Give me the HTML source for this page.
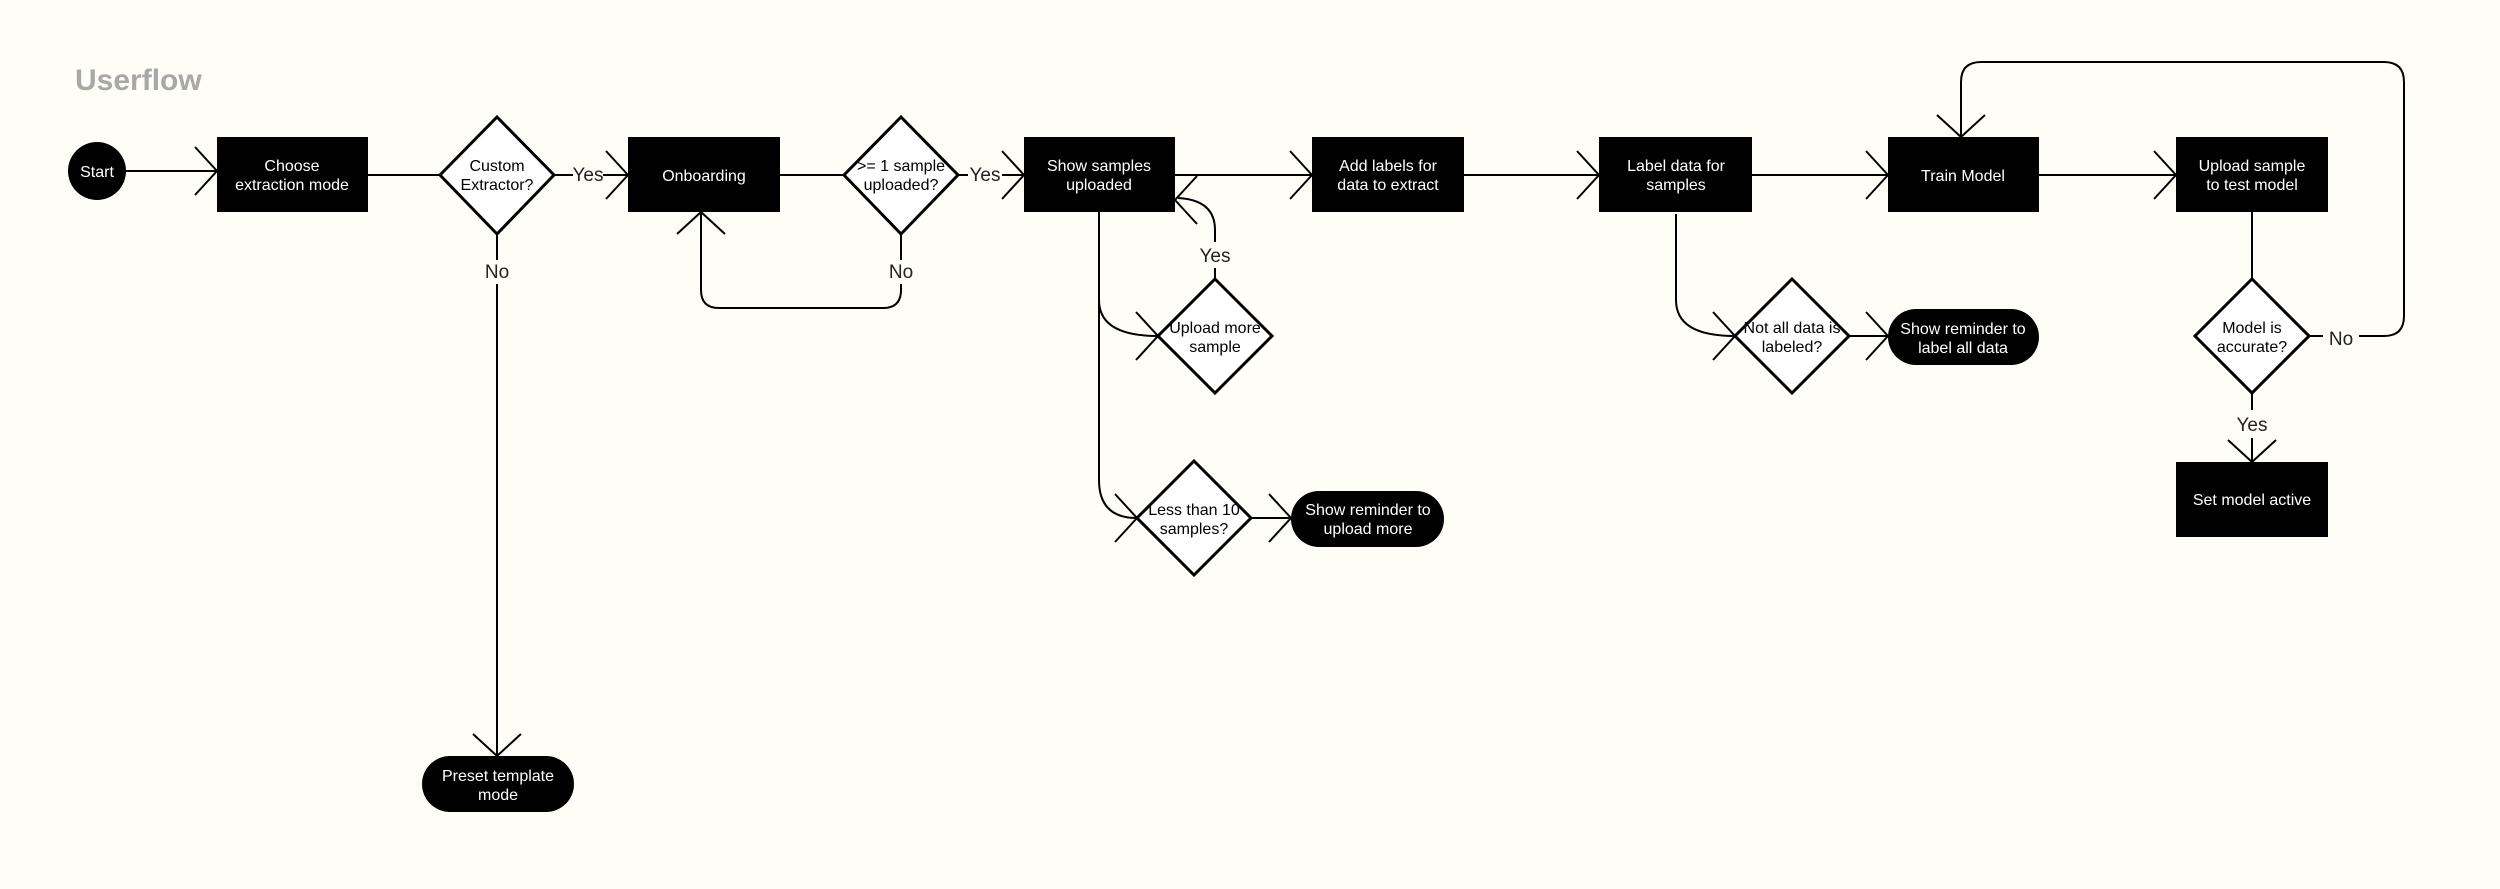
<!DOCTYPE html>
<html><head><meta charset="utf-8"><style>
html,body{margin:0;padding:0;background:#fefdf6;}
svg{display:block;}
text{font-family:"Liberation Sans",sans-serif;}
.n{fill:#fff;font-size:16px;text-anchor:middle;}
.d{fill:#000;font-size:16px;text-anchor:middle;}
.l{fill:#222;font-size:19px;text-anchor:middle;}
.c{fill:none;stroke:#000;stroke-width:2;}
.dm{fill:#fff;stroke:#000;stroke-width:3;}
</style></head><body>
<svg width="2500" height="889" viewBox="0 0 2500 889" xmlns="http://www.w3.org/2000/svg">
<rect width="2500" height="889" fill="#fefdf6"/>
<text x="75" y="90" font-size="30" fill="#a8a8a8" font-weight="bold" style="font-family:'Liberation Sans',sans-serif">Userflow</text>

<!-- connectors -->
<g class="c">
<path d="M126 171 L217 171"/><path d="M195 147 L217 171 L195 195"/>
<path d="M368 175 L440 175"/>
<path d="M554 175 L573 175"/><path d="M603 175 L628 175"/><path d="M606 151 L628 175 L606 199"/>
<path d="M780 175 L844 175"/>
<path d="M958 175 L968 175"/><path d="M1002 175 L1024 175"/><path d="M1002 151 L1024 175 L1002 199"/>
<path d="M1175 175 L1312 175"/><path d="M1290 151 L1312 175 L1290 199"/>
<path d="M1464 175 L1599 175"/><path d="M1577 151 L1599 175 L1577 199"/>
<path d="M1752 175 L1888 175"/><path d="M1866 151 L1888 175 L1866 199"/>
<path d="M2039 175 L2176 175"/><path d="M2154 151 L2176 175 L2154 199"/>
<path d="M497 234 L497 260"/><path d="M497 284 L497 756"/><path d="M473 734 L497 756 L521 734"/>
<path d="M901 234 L901 260"/><path d="M901 284 L901 290 Q901 308 883 308 L719 308 Q701 308 701 290 L701 212"/><path d="M677 234 L701 212 L725 234"/>
<path d="M1099 212 L1099 480 Q1099 518 1137 518"/><path d="M1115 494 L1137 518 L1115 542"/>
<path d="M1099 300 Q1099 336 1158 336"/><path d="M1136 312 L1158 336 L1136 360"/>
<path d="M1215 279 L1215 268"/><path d="M1215 242 L1215 230 Q1215 200 1178 198"/><path d="M1197 176 L1175 200 L1197 224"/>
<path d="M1251 518 L1291 518"/><path d="M1269 494 L1291 518 L1269 542"/>
<path d="M1676 214 L1676 300 Q1676 336 1735 336"/><path d="M1713 312 L1735 336 L1713 360"/>
<path d="M1849 336 L1888 336"/><path d="M1866 312 L1888 336 L1866 360"/>
<path d="M2252 212 L2252 279"/>
<path d="M2309 336 L2323 336"/><path d="M2359 336 L2384 336 Q2404 336 2404 316 L2404 82 Q2404 62 2384 62 L1981 62 Q1961 62 1961 82 L1961 137"/><path d="M1937 115 L1961 137 L1985 115"/>
<path d="M2252 393 L2252 410"/><path d="M2252 438 L2252 462"/><path d="M2228 440 L2252 462 L2276 440"/>
</g>

<!-- nodes -->
<circle cx="97" cy="171" r="29" fill="#000"/>
<text class="n" x="97" y="177">Start</text>

<rect x="217" y="137" width="151" height="75" fill="#000"/>
<text class="n" x="292" y="171">Choose</text><text class="n" x="292" y="190">extraction mode</text>

<polygon class="dm" points="497,117 554,175 497,234 440,175"/>
<text class="d" x="497" y="171">Custom</text><text class="d" x="497" y="190">Extractor?</text>

<rect x="628" y="137" width="152" height="75" fill="#000"/>
<text class="n" x="704" y="181">Onboarding</text>

<polygon class="dm" points="901,117 958,175 901,234 844,175"/>
<text class="d" x="901" y="171">&gt;= 1 sample</text><text class="d" x="901" y="190">uploaded?</text>

<rect x="1024" y="137" width="151" height="75" fill="#000"/>
<text class="n" x="1099" y="171">Show samples</text><text class="n" x="1099" y="190">uploaded</text>

<rect x="1312" y="137" width="152" height="75" fill="#000"/>
<text class="n" x="1388" y="171">Add labels for</text><text class="n" x="1388" y="190">data to extract</text>

<rect x="1599" y="137" width="153" height="75" fill="#000"/>
<text class="n" x="1676" y="171">Label data for</text><text class="n" x="1676" y="190">samples</text>

<rect x="1888" y="137" width="151" height="75" fill="#000"/>
<text class="n" x="1963" y="181">Train Model</text>

<rect x="2176" y="137" width="152" height="75" fill="#000"/>
<text class="n" x="2252" y="171">Upload sample</text><text class="n" x="2252" y="190">to test model</text>

<polygon class="dm" points="1215,279 1272,336 1215,393 1158,336"/>
<text class="d" x="1215" y="333">Upload more</text><text class="d" x="1215" y="352">sample</text>

<polygon class="dm" points="1194,461 1251,518 1194,575 1137,518"/>
<text class="d" x="1194" y="515">Less than 10</text><text class="d" x="1194" y="534">samples?</text>

<rect x="1291" y="491" width="153" height="56" rx="28" fill="#000"/>
<text class="n" x="1368" y="515">Show reminder to</text><text class="n" x="1368" y="534">upload more</text>

<polygon class="dm" points="1792,279 1849,336 1792,393 1735,336"/>
<text class="d" x="1792" y="333">Not all data is</text><text class="d" x="1792" y="352">labeled?</text>

<rect x="1888" y="309" width="151" height="56" rx="28" fill="#000"/>
<text class="n" x="1963" y="334">Show reminder to</text><text class="n" x="1963" y="353">label all data</text>

<polygon class="dm" points="2252,279 2309,336 2252,393 2195,336"/>
<text class="d" x="2252" y="333">Model is</text><text class="d" x="2252" y="352">accurate?</text>

<rect x="2176" y="462" width="152" height="75" fill="#000"/>
<text class="n" x="2252" y="505">Set model active</text>

<rect x="422" y="756" width="152" height="56" rx="28" fill="#000"/>
<text class="n" x="498" y="781">Preset template</text><text class="n" x="498" y="800">mode</text>

<!-- labels -->
<text class="l" x="588" y="181">Yes</text>
<text class="l" x="985" y="181">Yes</text>
<text class="l" x="497" y="278">No</text>
<text class="l" x="901" y="278">No</text>
<text class="l" x="1215" y="262">Yes</text>
<text class="l" x="2341" y="345">No</text>
<text class="l" x="2252" y="431">Yes</text>
</svg>
</body></html>
